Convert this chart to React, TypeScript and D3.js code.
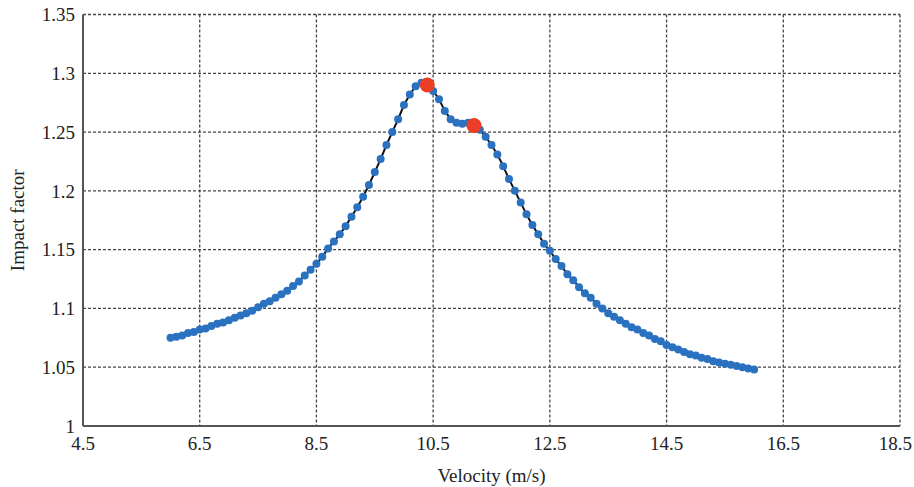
import React from "react";
import * as d3 from "d3";

const velocity: number[] = d3.range(0, 101).map((i) => +(6 + i * 0.1).toFixed(1));
const impactFactor: number[] = [
  1.075, 1.076, 1.077, 1.079, 1.080, 1.082, 1.083, 1.085, 1.087, 1.088,
  1.090, 1.092, 1.094, 1.096, 1.098, 1.101, 1.104, 1.106, 1.109, 1.112,
  1.115, 1.119, 1.123, 1.128, 1.133, 1.138, 1.144, 1.151, 1.157, 1.163,
  1.170, 1.178, 1.186, 1.195, 1.205, 1.216, 1.227, 1.239, 1.250, 1.261,
  1.273, 1.282, 1.289, 1.292, 1.290, 1.285, 1.278, 1.268, 1.261, 1.258,
  1.257, 1.258, 1.256, 1.252, 1.246, 1.239, 1.231, 1.221, 1.210, 1.200,
  1.190, 1.180, 1.171, 1.163, 1.155, 1.149, 1.142, 1.136, 1.129, 1.124,
  1.118, 1.113, 1.109, 1.104, 1.100, 1.096, 1.093, 1.090, 1.087, 1.084,
  1.082, 1.079, 1.077, 1.074, 1.072, 1.069, 1.067, 1.065, 1.063, 1.061,
  1.060, 1.058, 1.057, 1.055, 1.054, 1.053, 1.052, 1.051, 1.050, 1.049,
  1.048,
];
const highlightX: number[] = [10.4, 11.2];
const highlightY: number[] = [1.29, 1.2555];
const xTicks: number[] = [4.5, 6.5, 8.5, 10.5, 12.5, 14.5, 16.5, 18.5];
const yTicks: number[] = [1, 1.05, 1.1, 1.15, 1.2, 1.25, 1.3, 1.35];

const W = 914;
const H = 487;
const L = 83, R = 900, T = 14.5, B = 426;
const FONT = "'Liberation Serif', 'Times New Roman', serif";

export default function App() {
  const x = d3.scaleLinear().domain([4.5, 18.5]).range([L, R]);
  const y = d3.scaleLinear().domain([1, 1.35]).range([B, T]);
  const pts = velocity.map((v, i) => [v, impactFactor[i]] as [number, number]);
  const line = d3.line<[number, number]>().x((d) => x(d[0])).y((d) => y(d[1]));
  const last = xTicks.length - 1;

  return (
    <svg width={W} height={H} style={{ position: "absolute", left: 0, top: 0, background: "#fff" }}>
      {xTicks.slice(1).map((t) => (
        <line key={"gx" + t} x1={x(t)} x2={x(t)} y1={T} y2={B} stroke="#444" strokeWidth={1.3} strokeDasharray="3,2" />
      ))}
      {yTicks.slice(1).map((t) => (
        <line key={"gy" + t} x1={L} x2={R} y1={y(t)} y2={y(t)} stroke="#444" strokeWidth={1.3} strokeDasharray="3,2" />
      ))}
      <line x1={L} x2={L} y1={T} y2={B} stroke="#555" strokeWidth={2} />
      <line x1={L} x2={R} y1={B} y2={B} stroke="#555" strokeWidth={2} />
      {yTicks.map((t) => (
        <text key={"ty" + t} x={L - 8} y={y(t)} dy="0.35em" textAnchor="end" fontFamily={FONT} fontSize={19} fill="#222">
          {d3.format("")(t)}
        </text>
      ))}
      {xTicks.map((t, i) => (
        <text
          key={"tx" + t}
          x={i === last ? W - 2 : x(t)}
          y={B + 24}
          textAnchor={i === last ? "end" : "middle"}
          fontFamily={FONT}
          fontSize={19}
          fill="#222"
        >
          {t.toFixed(1)}
        </text>
      ))}
      <text x={(L + R) / 2} y={482} textAnchor="middle" fontFamily={FONT} fontSize={19} fill="#222">
        Velocity (m/s)
      </text>
      <text transform={`translate(24, ${(T + B) / 2}) rotate(-90)`} textAnchor="middle" fontFamily={FONT} fontSize={19} fill="#222">
        Impact factor
      </text>
      <path d={line(pts) || ""} fill="none" stroke="#111" strokeWidth={2} />
      {pts.map((d, i) => (
        <circle key={"p" + i} cx={x(d[0])} cy={y(d[1])} r={4} fill="#2a72c0" />
      ))}
      {highlightX.map((v, i) => (
        <circle key={"h" + i} cx={x(v)} cy={y(highlightY[i])} r={7.5} fill="#ea3f26" />
      ))}
    </svg>
  );
}
